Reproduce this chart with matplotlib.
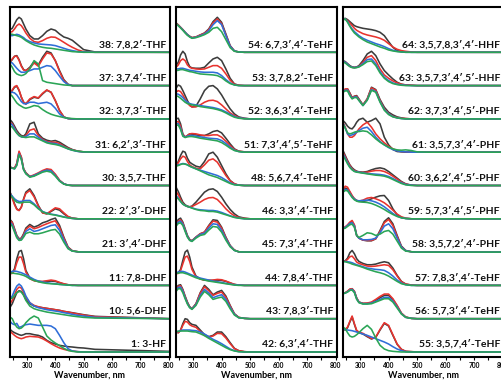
import matplotlib
matplotlib.use("Agg")
import matplotlib.pyplot as plt
from matplotlib.ticker import MultipleLocator
from matplotlib.transforms import blended_transform_factory

plt.rcParams['font.family'] = ['Lato', 'DejaVu Sans']

# wavelength grid (nm) the spectra were read at
wavelength = [240, 248, 256, 264, 272, 280, 288, 296, 310, 325, 340, 355,
              370, 385, 400, 415, 430, 445, 460, 480, 500, 540, 800]

# each spectrum set: [black, red, blue, green], heights in strip units

# ---- left column ----
s38 = [[0.68, 0.72, 0.85, 0.98, 1.05, 1.0, 0.85, 0.7, 0.5, 0.4, 0.4, 0.5, 0.63, 0.7, 0.66, 0.55, 0.46, 0.42, 0.36, 0.22, 0.08, 0.01, 0],
       [0.6, 0.62, 0.7, 0.8, 0.85, 0.8, 0.7, 0.58, 0.42, 0.32, 0.3, 0.35, 0.42, 0.46, 0.45, 0.38, 0.3, 0.22, 0.15, 0.07, 0.02, 0, 0],
       [0.5, 0.5, 0.52, 0.54, 0.52, 0.48, 0.44, 0.38, 0.32, 0.28, 0.25, 0.24, 0.23, 0.22, 0.2, 0.16, 0.12, 0.08, 0.05, 0.02, 0.01, 0, 0],
       [0.55, 0.54, 0.52, 0.5, 0.48, 0.45, 0.4, 0.35, 0.28, 0.22, 0.18, 0.15, 0.13, 0.12, 0.1, 0.08, 0.06, 0.04, 0.02, 0.01, 0, 0, 0]]
s37 = [[0.7, 0.78, 0.88, 0.9, 0.78, 0.6, 0.48, 0.45, 0.55, 0.72, 0.62, 0.85, 1.03, 0.98, 0.75, 0.45, 0.18, 0.04, 0, 0, 0, 0, 0],
       [0.72, 0.8, 0.88, 0.88, 0.76, 0.58, 0.47, 0.45, 0.52, 0.68, 0.58, 0.8, 0.98, 0.95, 0.75, 0.42, 0.15, 0.03, 0, 0, 0, 0, 0],
       [0.7, 0.68, 0.6, 0.52, 0.45, 0.4, 0.4, 0.41, 0.45, 0.5, 0.5, 0.55, 0.6, 0.58, 0.45, 0.28, 0.12, 0.03, 0, 0, 0, 0, 0],
       [0.65, 0.55, 0.42, 0.35, 0.32, 0.3, 0.32, 0.36, 0.5, 0.75, 0.65, 0.15, 0.1, 0.08, 0.06, 0.04, 0.02, 0.01, 0, 0, 0, 0, 0]]
s32 = [[0.75, 0.85, 0.95, 0.98, 0.85, 0.65, 0.5, 0.45, 0.58, 0.65, 0.62, 0.75, 0.86, 0.8, 0.55, 0.25, 0.06, 0.01, 0, 0, 0, 0, 0],
       [0.75, 0.87, 0.97, 1.0, 0.87, 0.66, 0.5, 0.45, 0.6, 0.67, 0.63, 0.77, 0.87, 0.8, 0.55, 0.25, 0.06, 0.01, 0, 0, 0, 0, 0],
       [0.8, 0.8, 0.78, 0.72, 0.62, 0.52, 0.46, 0.45, 0.5, 0.5, 0.46, 0.48, 0.5, 0.45, 0.32, 0.15, 0.05, 0.01, 0, 0, 0, 0, 0],
       [0.75, 0.68, 0.58, 0.48, 0.42, 0.38, 0.34, 0.32, 0.35, 0.4, 0.38, 0.28, 0.2, 0.14, 0.1, 0.07, 0.04, 0.02, 0.01, 0, 0, 0, 0]]
s31 = [[0.98, 0.9, 0.78, 0.65, 0.56, 0.5, 0.48, 0.55, 0.85, 0.9, 0.55, 0.42, 0.36, 0.33, 0.35, 0.3, 0.22, 0.14, 0.08, 0.03, 0.01, 0, 0],
       [0.9, 0.85, 0.72, 0.6, 0.52, 0.47, 0.45, 0.5, 0.66, 0.7, 0.5, 0.38, 0.32, 0.3, 0.3, 0.26, 0.18, 0.12, 0.07, 0.03, 0.01, 0, 0],
       [0.88, 0.82, 0.7, 0.58, 0.5, 0.46, 0.45, 0.47, 0.55, 0.55, 0.45, 0.36, 0.3, 0.27, 0.26, 0.22, 0.16, 0.1, 0.06, 0.02, 0.01, 0, 0],
       [0.8, 0.75, 0.66, 0.57, 0.5, 0.47, 0.45, 0.44, 0.46, 0.46, 0.4, 0.34, 0.28, 0.25, 0.23, 0.2, 0.15, 0.1, 0.06, 0.03, 0.01, 0, 0]]
s30 = [[0.55, 0.53, 0.52, 0.65, 1.0, 0.85, 0.5, 0.38, 0.27, 0.3, 0.36, 0.42, 0.47, 0.45, 0.32, 0.15, 0.05, 0.01, 0, 0, 0, 0, 0],
       [0.55, 0.53, 0.52, 0.67, 1.03, 0.85, 0.5, 0.38, 0.27, 0.32, 0.38, 0.45, 0.5, 0.48, 0.34, 0.16, 0.05, 0.01, 0, 0, 0, 0, 0],
       [0.55, 0.52, 0.5, 0.62, 0.95, 0.8, 0.48, 0.36, 0.26, 0.3, 0.36, 0.42, 0.46, 0.44, 0.3, 0.14, 0.05, 0.01, 0, 0, 0, 0, 0],
       [0.55, 0.52, 0.5, 0.6, 0.92, 0.78, 0.47, 0.35, 0.25, 0.28, 0.34, 0.4, 0.43, 0.4, 0.28, 0.13, 0.04, 0.01, 0, 0, 0, 0, 0]]
s22 = [[0.8, 0.65, 0.45, 0.3, 0.25, 0.35, 0.6, 0.8, 0.9, 0.7, 0.4, 0.18, 0.15, 0.22, 0.3, 0.26, 0.15, 0.06, 0.02, 0, 0, 0, 0],
       [0.78, 0.62, 0.42, 0.28, 0.25, 0.35, 0.58, 0.76, 0.85, 0.66, 0.38, 0.18, 0.15, 0.24, 0.33, 0.3, 0.18, 0.07, 0.02, 0, 0, 0, 0],
       [0.75, 0.68, 0.6, 0.55, 0.52, 0.52, 0.54, 0.55, 0.55, 0.45, 0.32, 0.22, 0.17, 0.14, 0.12, 0.09, 0.06, 0.03, 0.01, 0, 0, 0, 0],
       [0.72, 0.65, 0.56, 0.5, 0.48, 0.48, 0.5, 0.5, 0.5, 0.42, 0.3, 0.21, 0.16, 0.13, 0.11, 0.08, 0.05, 0.03, 0.01, 0, 0, 0, 0]]
s21 = [[0.98, 0.9, 0.7, 0.5, 0.4, 0.42, 0.55, 0.72, 0.83, 0.75, 0.8, 0.88, 0.92, 0.98, 1.02, 0.8, 0.45, 0.15, 0.04, 0.01, 0, 0, 0],
       [0.95, 0.88, 0.68, 0.48, 0.38, 0.4, 0.52, 0.68, 0.78, 0.7, 0.74, 0.8, 0.85, 0.9, 0.94, 0.74, 0.42, 0.14, 0.04, 0.01, 0, 0, 0],
       [0.9, 0.82, 0.64, 0.46, 0.37, 0.38, 0.48, 0.62, 0.7, 0.62, 0.65, 0.7, 0.75, 0.8, 0.82, 0.65, 0.37, 0.12, 0.03, 0.01, 0, 0, 0],
       [0.85, 0.78, 0.6, 0.43, 0.35, 0.36, 0.45, 0.56, 0.6, 0.55, 0.55, 0.58, 0.62, 0.66, 0.68, 0.54, 0.3, 0.1, 0.03, 0.01, 0, 0, 0]]
s11 = [[0.37, 0.38, 0.5, 0.8, 1.02, 1.05, 0.8, 0.45, 0.22, 0.15, 0.12, 0.11, 0.12, 0.13, 0.12, 0.08, 0.04, 0.02, 0.01, 0, 0, 0, 0],
       [0.35, 0.36, 0.45, 0.68, 0.85, 0.85, 0.65, 0.4, 0.2, 0.14, 0.12, 0.12, 0.14, 0.16, 0.14, 0.09, 0.05, 0.02, 0.01, 0, 0, 0, 0],
       [0.4, 0.42, 0.43, 0.42, 0.4, 0.38, 0.35, 0.32, 0.25, 0.18, 0.13, 0.1, 0.08, 0.06, 0.05, 0.03, 0.02, 0.01, 0, 0, 0, 0, 0],
       [0.38, 0.37, 0.36, 0.35, 0.34, 0.32, 0.3, 0.27, 0.2, 0.15, 0.11, 0.08, 0.06, 0.05, 0.04, 0.03, 0.02, 0.01, 0, 0, 0, 0, 0]]
s10 = [[0.34, 0.45, 0.62, 0.78, 0.84, 0.82, 0.72, 0.58, 0.45, 0.38, 0.35, 0.33, 0.31, 0.29, 0.27, 0.25, 0.22, 0.2, 0.18, 0.15, 0.12, 0.07, 0],
       [0.45, 0.55, 0.72, 0.88, 0.95, 0.92, 0.8, 0.65, 0.48, 0.4, 0.36, 0.33, 0.31, 0.29, 0.27, 0.25, 0.22, 0.2, 0.17, 0.14, 0.11, 0.06, 0],
       [0.6, 0.68, 0.85, 0.98, 1.04, 0.98, 0.85, 0.68, 0.48, 0.38, 0.33, 0.3, 0.27, 0.25, 0.23, 0.21, 0.18, 0.16, 0.13, 0.1, 0.08, 0.04, 0],
       [0.6, 0.62, 0.7, 0.78, 0.82, 0.8, 0.7, 0.55, 0.38, 0.3, 0.26, 0.23, 0.2, 0.18, 0.16, 0.14, 0.12, 0.1, 0.08, 0.06, 0.04, 0.02, 0]]
s1 = [[0.68, 0.62, 0.58, 0.55, 0.52, 0.5, 0.52, 0.55, 0.55, 0.52, 0.5, 0.45, 0.35, 0.28, 0.24, 0.2, 0.18, 0.16, 0.15, 0.13, 0.12, 0.08, 0.02],
      [0.62, 0.56, 0.5, 0.45, 0.42, 0.4, 0.42, 0.45, 0.47, 0.46, 0.45, 0.4, 0.33, 0.25, 0.18, 0.12, 0.08, 0.05, 0.03, 0.01, 0, 0, 0],
      [0.92, 0.85, 0.82, 0.86, 0.74, 0.76, 0.8, 0.82, 0.84, 0.82, 0.8, 0.8, 0.8, 0.78, 0.7, 0.5, 0.28, 0.1, 0.03, 0.01, 0, 0, 0],
      [1.05, 1.0, 0.85, 0.75, 0.7, 0.72, 0.78, 0.88, 1.0, 1.08, 1.02, 0.75, 0.48, 0.36, 0.27, 0.19, 0.11, 0.05, 0.02, 0, 0, 0, 0]]

# ---- middle column ----
s54 = [[0.88, 0.82, 0.75, 0.68, 0.6, 0.53, 0.48, 0.44, 0.46, 0.52, 0.58, 0.7, 0.92, 1.05, 0.9, 0.55, 0.2, 0.04, 0.01, 0, 0, 0, 0],
       [0.88, 0.82, 0.75, 0.68, 0.6, 0.53, 0.48, 0.44, 0.46, 0.52, 0.57, 0.68, 0.88, 1.0, 0.86, 0.52, 0.19, 0.04, 0.01, 0, 0, 0, 0],
       [0.86, 0.8, 0.74, 0.67, 0.6, 0.53, 0.47, 0.43, 0.45, 0.5, 0.55, 0.65, 0.83, 0.95, 0.83, 0.5, 0.18, 0.04, 0.01, 0, 0, 0, 0],
       [0.86, 0.8, 0.73, 0.66, 0.58, 0.51, 0.46, 0.42, 0.44, 0.48, 0.53, 0.6, 0.72, 0.75, 0.62, 0.38, 0.14, 0.03, 0.01, 0, 0, 0, 0]]
s53 = [[0.6, 0.7, 0.92, 1.03, 0.95, 0.72, 0.57, 0.53, 0.52, 0.52, 0.55, 0.68, 0.8, 0.85, 0.75, 0.5, 0.22, 0.05, 0.01, 0, 0, 0, 0],
       [0.55, 0.62, 0.75, 0.8, 0.75, 0.62, 0.55, 0.52, 0.5, 0.49, 0.5, 0.55, 0.6, 0.6, 0.52, 0.35, 0.16, 0.04, 0.01, 0, 0, 0, 0],
       [0.5, 0.5, 0.52, 0.52, 0.5, 0.48, 0.46, 0.45, 0.43, 0.41, 0.4, 0.4, 0.4, 0.38, 0.3, 0.18, 0.08, 0.02, 0, 0, 0, 0, 0],
       [0.45, 0.46, 0.48, 0.48, 0.46, 0.44, 0.42, 0.41, 0.38, 0.35, 0.34, 0.33, 0.32, 0.3, 0.24, 0.14, 0.06, 0.02, 0, 0, 0, 0, 0]]
s52 = [[0.92, 1.02, 0.98, 0.85, 0.7, 0.55, 0.42, 0.36, 0.38, 0.6, 0.85, 0.98, 1.0, 0.9, 0.72, 0.5, 0.3, 0.15, 0.06, 0.02, 0, 0, 0],
       [0.8, 0.85, 0.82, 0.72, 0.6, 0.48, 0.4, 0.36, 0.36, 0.42, 0.5, 0.55, 0.56, 0.52, 0.42, 0.3, 0.18, 0.1, 0.04, 0.01, 0, 0, 0],
       [0.76, 0.74, 0.7, 0.64, 0.56, 0.5, 0.46, 0.44, 0.42, 0.4, 0.38, 0.36, 0.34, 0.31, 0.27, 0.21, 0.14, 0.07, 0.03, 0.01, 0, 0, 0],
       [0.7, 0.67, 0.62, 0.56, 0.5, 0.46, 0.44, 0.42, 0.4, 0.37, 0.35, 0.33, 0.31, 0.28, 0.24, 0.18, 0.11, 0.05, 0.02, 0, 0, 0, 0]]
s51 = [[1.0, 1.02, 0.85, 0.55, 0.45, 0.5, 0.55, 0.54, 0.52, 0.5, 0.5, 0.55, 0.62, 0.65, 0.58, 0.42, 0.25, 0.1, 0.03, 0.01, 0, 0, 0],
       [0.9, 0.92, 0.78, 0.52, 0.46, 0.5, 0.55, 0.56, 0.55, 0.52, 0.5, 0.5, 0.52, 0.52, 0.45, 0.33, 0.2, 0.08, 0.03, 0.01, 0, 0, 0],
       [0.85, 0.86, 0.72, 0.5, 0.45, 0.48, 0.5, 0.5, 0.48, 0.46, 0.44, 0.42, 0.41, 0.4, 0.35, 0.26, 0.15, 0.06, 0.02, 0, 0, 0, 0],
       [0.8, 0.82, 0.68, 0.48, 0.44, 0.46, 0.47, 0.47, 0.45, 0.42, 0.4, 0.38, 0.36, 0.34, 0.29, 0.21, 0.12, 0.05, 0.02, 0, 0, 0, 0]]
s48 = [[0.6, 0.72, 0.9, 1.03, 1.0, 0.82, 0.7, 0.65, 0.58, 0.55, 0.72, 0.95, 1.0, 0.85, 0.6, 0.35, 0.15, 0.05, 0.01, 0, 0, 0, 0],
       [0.6, 0.68, 0.8, 0.88, 0.85, 0.72, 0.62, 0.57, 0.52, 0.5, 0.62, 0.76, 0.8, 0.7, 0.5, 0.3, 0.14, 0.05, 0.01, 0, 0, 0, 0],
       [0.6, 0.62, 0.64, 0.66, 0.65, 0.62, 0.58, 0.55, 0.5, 0.46, 0.42, 0.38, 0.34, 0.3, 0.24, 0.16, 0.08, 0.03, 0.01, 0, 0, 0, 0],
       [0.58, 0.6, 0.63, 0.65, 0.64, 0.62, 0.58, 0.55, 0.5, 0.44, 0.38, 0.32, 0.28, 0.24, 0.18, 0.12, 0.06, 0.02, 0.01, 0, 0, 0, 0]]
s46 = [[0.95, 0.82, 0.65, 0.5, 0.42, 0.38, 0.36, 0.38, 0.5, 0.65, 0.8, 0.88, 0.9, 0.82, 0.65, 0.45, 0.28, 0.15, 0.06, 0.02, 0, 0, 0],
       [0.82, 0.72, 0.58, 0.46, 0.4, 0.37, 0.36, 0.37, 0.43, 0.5, 0.58, 0.63, 0.64, 0.58, 0.45, 0.3, 0.18, 0.09, 0.04, 0.01, 0, 0, 0],
       [0.7, 0.62, 0.52, 0.44, 0.4, 0.37, 0.35, 0.33, 0.29, 0.27, 0.26, 0.25, 0.25, 0.23, 0.19, 0.14, 0.09, 0.05, 0.02, 0, 0, 0, 0],
       [0.65, 0.6, 0.52, 0.44, 0.4, 0.37, 0.35, 0.32, 0.28, 0.25, 0.24, 0.22, 0.22, 0.2, 0.16, 0.12, 0.08, 0.04, 0.02, 0, 0, 0, 0]]
s45 = [[0.85, 0.98, 1.02, 0.9, 0.7, 0.5, 0.38, 0.34, 0.45, 0.55, 0.6, 0.8, 0.97, 0.95, 0.75, 0.45, 0.2, 0.06, 0.01, 0, 0, 0, 0],
       [0.82, 0.93, 0.97, 0.87, 0.67, 0.48, 0.37, 0.34, 0.45, 0.55, 0.6, 0.78, 0.93, 0.9, 0.72, 0.43, 0.19, 0.06, 0.01, 0, 0, 0, 0],
       [0.8, 0.9, 0.93, 0.84, 0.65, 0.47, 0.36, 0.33, 0.44, 0.53, 0.57, 0.72, 0.85, 0.83, 0.66, 0.4, 0.18, 0.05, 0.01, 0, 0, 0, 0],
       [0.78, 0.86, 0.88, 0.8, 0.62, 0.45, 0.35, 0.32, 0.42, 0.5, 0.53, 0.66, 0.77, 0.75, 0.6, 0.36, 0.16, 0.05, 0.01, 0, 0, 0, 0]]
s44 = [[0.37, 0.38, 0.48, 0.75, 1.0, 1.06, 0.85, 0.55, 0.28, 0.2, 0.16, 0.15, 0.15, 0.16, 0.15, 0.12, 0.07, 0.03, 0.01, 0, 0, 0, 0],
       [0.35, 0.36, 0.44, 0.65, 0.85, 0.88, 0.72, 0.48, 0.26, 0.19, 0.16, 0.15, 0.16, 0.18, 0.17, 0.13, 0.08, 0.03, 0.01, 0, 0, 0, 0],
       [0.38, 0.4, 0.42, 0.42, 0.4, 0.37, 0.34, 0.31, 0.26, 0.22, 0.19, 0.16, 0.13, 0.11, 0.09, 0.06, 0.04, 0.02, 0.01, 0, 0, 0, 0],
       [0.36, 0.37, 0.38, 0.38, 0.36, 0.34, 0.31, 0.28, 0.23, 0.19, 0.16, 0.13, 0.11, 0.09, 0.07, 0.05, 0.03, 0.01, 0, 0, 0, 0, 0]]
s43 = [[0.9, 1.0, 1.02, 0.88, 0.68, 0.5, 0.36, 0.3, 0.45, 0.78, 1.0, 0.88, 0.72, 0.8, 0.85, 0.68, 0.4, 0.15, 0.04, 0.01, 0, 0, 0],
       [0.88, 0.97, 0.99, 0.86, 0.66, 0.48, 0.35, 0.3, 0.44, 0.76, 0.96, 0.84, 0.7, 0.76, 0.8, 0.64, 0.38, 0.14, 0.04, 0.01, 0, 0, 0],
       [0.85, 0.94, 0.95, 0.83, 0.63, 0.46, 0.34, 0.29, 0.42, 0.7, 0.88, 0.77, 0.63, 0.68, 0.72, 0.58, 0.34, 0.13, 0.03, 0.01, 0, 0, 0],
       [0.82, 0.9, 0.9, 0.78, 0.6, 0.44, 0.33, 0.28, 0.4, 0.65, 0.82, 0.72, 0.58, 0.62, 0.65, 0.52, 0.3, 0.11, 0.03, 0.01, 0, 0, 0]]
s42 = [[0.6, 0.58, 0.66, 0.85, 1.0, 0.98, 0.88, 0.83, 0.8, 0.66, 0.52, 0.46, 0.5, 0.6, 0.6, 0.46, 0.28, 0.11, 0.04, 0.01, 0, 0, 0],
       [0.6, 0.58, 0.65, 0.8, 0.92, 0.9, 0.82, 0.78, 0.74, 0.62, 0.5, 0.45, 0.48, 0.56, 0.55, 0.42, 0.25, 0.1, 0.04, 0.01, 0, 0, 0],
       [0.6, 0.62, 0.64, 0.66, 0.66, 0.66, 0.66, 0.65, 0.64, 0.6, 0.54, 0.46, 0.38, 0.32, 0.25, 0.17, 0.09, 0.04, 0.01, 0, 0, 0, 0],
       [0.62, 0.62, 0.63, 0.63, 0.63, 0.63, 0.62, 0.61, 0.6, 0.55, 0.49, 0.41, 0.34, 0.27, 0.2, 0.13, 0.07, 0.03, 0.01, 0, 0, 0, 0]]

# ---- right column ----
s64 = [[1.0, 1.02, 0.98, 0.92, 0.86, 0.8, 0.77, 0.75, 0.72, 0.7, 0.68, 0.65, 0.6, 0.5, 0.32, 0.15, 0.05, 0.02, 0.01, 0, 0, 0, 0],
       [0.98, 1.0, 0.95, 0.88, 0.8, 0.72, 0.66, 0.62, 0.56, 0.52, 0.49, 0.46, 0.42, 0.36, 0.26, 0.16, 0.09, 0.05, 0.03, 0.01, 0, 0, 0],
       [0.98, 1.0, 0.92, 0.8, 0.7, 0.62, 0.56, 0.5, 0.42, 0.36, 0.31, 0.26, 0.22, 0.17, 0.11, 0.06, 0.03, 0.01, 0, 0, 0, 0, 0],
       [0.97, 1.0, 0.9, 0.78, 0.67, 0.58, 0.52, 0.46, 0.38, 0.31, 0.26, 0.21, 0.16, 0.12, 0.07, 0.04, 0.02, 0.01, 0, 0, 0, 0, 0]]
s63 = [[0.75, 0.72, 0.66, 0.6, 0.56, 0.55, 0.56, 0.6, 0.75, 0.95, 1.03, 0.9, 0.65, 0.45, 0.32, 0.2, 0.1, 0.04, 0.02, 0.01, 0, 0, 0],
       [0.72, 0.7, 0.64, 0.58, 0.55, 0.54, 0.55, 0.58, 0.7, 0.85, 0.9, 0.75, 0.5, 0.32, 0.22, 0.14, 0.08, 0.04, 0.02, 0.01, 0, 0, 0],
       [0.72, 0.7, 0.64, 0.58, 0.55, 0.54, 0.55, 0.57, 0.66, 0.78, 0.8, 0.65, 0.42, 0.25, 0.15, 0.08, 0.04, 0.02, 0.01, 0, 0, 0, 0],
       [0.7, 0.68, 0.62, 0.57, 0.54, 0.53, 0.54, 0.56, 0.63, 0.72, 0.74, 0.6, 0.38, 0.22, 0.12, 0.06, 0.03, 0.01, 0, 0, 0, 0, 0]]
s62 = [[0.84, 0.88, 0.9, 0.78, 0.64, 0.68, 0.7, 0.6, 0.42, 0.6, 0.95, 0.88, 0.58, 0.35, 0.2, 0.12, 0.06, 0.03, 0.01, 0, 0, 0, 0],
       [0.85, 0.9, 0.9, 0.76, 0.64, 0.68, 0.68, 0.58, 0.42, 0.6, 0.93, 0.86, 0.55, 0.3, 0.16, 0.08, 0.04, 0.02, 0.01, 0, 0, 0, 0],
       [0.82, 0.86, 0.86, 0.72, 0.62, 0.66, 0.66, 0.56, 0.4, 0.57, 0.88, 0.82, 0.52, 0.28, 0.15, 0.07, 0.03, 0.01, 0, 0, 0, 0, 0],
       [0.8, 0.84, 0.84, 0.7, 0.6, 0.64, 0.64, 0.55, 0.4, 0.56, 0.86, 0.8, 0.5, 0.26, 0.13, 0.06, 0.03, 0.01, 0, 0, 0, 0, 0]]
s61 = [[0.95, 0.88, 0.78, 0.72, 0.7, 0.78, 0.9, 0.98, 1.02, 0.9, 0.95, 1.02, 0.85, 0.45, 0.22, 0.08, 0.02, 0.01, 0, 0, 0, 0, 0],
       [0.9, 0.75, 0.55, 0.45, 0.45, 0.5, 0.6, 0.7, 0.82, 0.9, 0.75, 0.55, 0.4, 0.28, 0.18, 0.1, 0.05, 0.02, 0.01, 0, 0, 0, 0],
       [0.88, 0.72, 0.55, 0.5, 0.52, 0.55, 0.6, 0.65, 0.72, 0.75, 0.62, 0.45, 0.32, 0.22, 0.14, 0.08, 0.04, 0.02, 0.01, 0, 0, 0, 0],
       [0.85, 0.72, 0.58, 0.55, 0.57, 0.6, 0.62, 0.62, 0.64, 0.62, 0.52, 0.4, 0.3, 0.22, 0.15, 0.1, 0.07, 0.06, 0.07, 0.05, 0.01, 0, 0]]
s60 = [[1.05, 0.9, 0.75, 0.62, 0.53, 0.47, 0.43, 0.41, 0.4, 0.42, 0.47, 0.51, 0.53, 0.5, 0.42, 0.32, 0.22, 0.12, 0.05, 0.01, 0, 0, 0],
       [1.0, 0.86, 0.72, 0.6, 0.5, 0.45, 0.42, 0.4, 0.39, 0.4, 0.43, 0.45, 0.45, 0.42, 0.36, 0.28, 0.19, 0.1, 0.04, 0.01, 0, 0, 0],
       [0.95, 0.82, 0.68, 0.56, 0.48, 0.43, 0.41, 0.4, 0.38, 0.36, 0.35, 0.34, 0.33, 0.31, 0.27, 0.21, 0.14, 0.08, 0.03, 0.01, 0, 0, 0],
       [0.9, 0.78, 0.65, 0.54, 0.47, 0.42, 0.4, 0.39, 0.37, 0.35, 0.33, 0.31, 0.3, 0.28, 0.24, 0.18, 0.12, 0.06, 0.02, 0, 0, 0, 0]]
s59 = [[0.85, 0.92, 0.9, 0.8, 0.68, 0.6, 0.55, 0.53, 0.52, 0.55, 0.6, 0.65, 0.69, 0.7, 0.55, 0.3, 0.12, 0.04, 0.01, 0, 0, 0, 0],
       [0.88, 0.98, 0.95, 0.82, 0.7, 0.6, 0.55, 0.53, 0.56, 0.62, 0.64, 0.6, 0.55, 0.48, 0.38, 0.26, 0.14, 0.06, 0.02, 0, 0, 0, 0],
       [0.82, 0.88, 0.86, 0.76, 0.66, 0.59, 0.55, 0.54, 0.55, 0.56, 0.54, 0.5, 0.44, 0.36, 0.26, 0.16, 0.08, 0.03, 0.01, 0, 0, 0, 0],
       [0.8, 0.85, 0.84, 0.74, 0.64, 0.57, 0.53, 0.51, 0.5, 0.49, 0.46, 0.41, 0.35, 0.28, 0.2, 0.13, 0.07, 0.03, 0.01, 0, 0, 0, 0]]
s58 = [[0.72, 0.74, 0.8, 0.88, 0.92, 0.8, 0.5, 0.42, 0.36, 0.34, 0.34, 0.4, 0.65, 0.92, 1.03, 0.85, 0.5, 0.18, 0.05, 0.01, 0, 0, 0],
       [0.73, 0.76, 0.82, 0.9, 0.95, 0.82, 0.5, 0.42, 0.36, 0.35, 0.35, 0.4, 0.62, 0.88, 0.98, 0.8, 0.47, 0.16, 0.04, 0.01, 0, 0, 0],
       [0.72, 0.74, 0.8, 0.86, 0.88, 0.78, 0.5, 0.42, 0.37, 0.37, 0.38, 0.42, 0.58, 0.78, 0.85, 0.7, 0.42, 0.15, 0.04, 0.01, 0, 0, 0],
       [0.7, 0.72, 0.77, 0.82, 0.84, 0.74, 0.5, 0.44, 0.5, 0.58, 0.56, 0.5, 0.54, 0.62, 0.65, 0.54, 0.33, 0.12, 0.03, 0.01, 0, 0, 0]]
s57 = [[0.72, 0.74, 0.82, 0.98, 1.05, 0.95, 0.8, 0.72, 0.66, 0.62, 0.62, 0.64, 0.68, 0.71, 0.68, 0.52, 0.3, 0.12, 0.04, 0.01, 0, 0, 0],
       [0.72, 0.73, 0.78, 0.86, 0.88, 0.8, 0.7, 0.66, 0.62, 0.58, 0.57, 0.58, 0.6, 0.62, 0.6, 0.47, 0.28, 0.11, 0.04, 0.01, 0, 0, 0],
       [0.72, 0.72, 0.71, 0.7, 0.68, 0.65, 0.62, 0.6, 0.56, 0.52, 0.5, 0.48, 0.47, 0.45, 0.38, 0.28, 0.16, 0.07, 0.02, 0, 0, 0, 0],
       [0.72, 0.71, 0.69, 0.67, 0.64, 0.62, 0.6, 0.58, 0.54, 0.49, 0.45, 0.41, 0.38, 0.34, 0.28, 0.2, 0.12, 0.05, 0.02, 0, 0, 0, 0]]
s56 = [[0.76, 0.78, 0.82, 0.88, 0.9, 0.82, 0.62, 0.5, 0.46, 0.46, 0.48, 0.55, 0.63, 0.7, 0.7, 0.58, 0.38, 0.16, 0.05, 0.01, 0, 0, 0],
       [0.76, 0.78, 0.83, 0.89, 0.9, 0.82, 0.62, 0.5, 0.46, 0.47, 0.5, 0.58, 0.67, 0.74, 0.74, 0.6, 0.4, 0.17, 0.05, 0.01, 0, 0, 0],
       [0.75, 0.77, 0.81, 0.86, 0.88, 0.8, 0.6, 0.49, 0.45, 0.45, 0.47, 0.52, 0.58, 0.64, 0.64, 0.53, 0.35, 0.15, 0.04, 0.01, 0, 0, 0],
       [0.75, 0.77, 0.8, 0.85, 0.86, 0.78, 0.58, 0.48, 0.44, 0.44, 0.45, 0.5, 0.55, 0.6, 0.6, 0.5, 0.32, 0.14, 0.04, 0.01, 0, 0, 0]]
s55 = [[0.68, 0.66, 0.73, 0.9, 1.05, 0.83, 0.63, 0.58, 0.54, 0.46, 0.39, 0.44, 0.66, 0.86, 0.78, 0.5, 0.23, 0.08, 0.02, 0.01, 0, 0, 0],
       [0.7, 0.68, 0.75, 0.92, 1.08, 0.85, 0.65, 0.6, 0.56, 0.48, 0.4, 0.45, 0.68, 0.88, 0.8, 0.52, 0.24, 0.08, 0.02, 0.01, 0, 0, 0],
       [0.7, 0.68, 0.66, 0.65, 0.64, 0.62, 0.6, 0.58, 0.54, 0.5, 0.45, 0.4, 0.35, 0.3, 0.24, 0.16, 0.09, 0.04, 0.01, 0, 0, 0, 0],
       [0.75, 0.7, 0.58, 0.48, 0.45, 0.47, 0.52, 0.58, 0.7, 0.8, 0.68, 0.42, 0.2, 0.09, 0.04, 0.02, 0.01, 0, 0, 0, 0, 0, 0]]

labels_left = ['38: 7,8,2′-THF', '37: 3,7,4′-THF', '32: 3,7,3′-THF', '31: 6,2′,3′-THF',
               '30: 3,5,7-THF', '22: 2′,3′-DHF', '21: 3′,4′-DHF', '11: 7,8-DHF',
               '10: 5,6-DHF', '1: 3-HF']
labels_mid = ['54: 6,7,3′,4′-TeHF', '53: 3,7,8,2′-TeHF', '52: 3,6,3′,4′-TeHF',
              '51: 7,3′,4′,5′-TeHF', '48: 5,6,7,4′-TeHF', '46: 3,3′,4′-THF',
              '45: 7,3′,4′-THF', '44: 7,8,4′-THF', '43: 7,8,3′-THF', '42: 6,3′,4′-THF']
labels_right = ['64: 3,5,7,8,3′,4′-HHF', '63: 3,5,7,3′,4′,5′-HHF', '62: 3,7,3′,4′,5′-PHF',
                '61: 3,5,7,3′,4′-PHF', '60: 3,6,2′,4′,5′-PHF', '59: 5,7,3′,4′,5′-PHF',
                '58: 3,5,7,2′,4′-PHF', '57: 7,8,3′,4′-TeHF', '56: 5,7,3′,4′-TeHF',
                '55: 3,5,7,4′-TeHF']

columns = [
    (labels_left, [s38, s37, s32, s31, s30, s22, s21, s11, s10, s1]),
    (labels_mid, [s54, s53, s52, s51, s48, s46, s45, s44, s43, s42]),
    (labels_right, [s64, s63, s62, s61, s60, s59, s58, s57, s56, s55]),
]
colors = ['#3c3c3c', '#e8332e', '#2f6ed8', '#2aa556']

W, H = 501, 382
fig = plt.figure(figsize=(W / 100, H / 100), dpi=100)

# axes edges in pixels
col_px = [(10, 170), (176, 337), (343, 504)]

for (x0, x1), (labels, spectra) in zip(col_px, columns):
    ax = fig.add_axes([x0 / W, 25 / H, (x1 - x0) / W, 350 / H])
    n = len(spectra)
    for i, (lab, curves) in enumerate(zip(labels, spectra)):
        off = n - 1 - i
        for c, ys in zip(colors, curves):
            ax.plot(wavelength, [v + off for v in ys], color=c, lw=1.15)
        tr = blended_transform_factory(ax.transAxes, ax.transData)
        ax.text(0.975, off + 0.15, lab, transform=tr, ha='right', va='baseline',
                fontsize=7.5, fontweight='bold', color='#111111')

    ax.set_xlim(240, 805)
    ax.set_ylim(-0.15, 10.36)
    ax.set_xticks(range(300, 801, 100))
    ax.xaxis.set_minor_locator(MultipleLocator(50))
    ax.set_yticks([])
    ax.tick_params(axis='x', which='both', direction='out', length=2, width=0.8,
                   labelsize=4.8, pad=1.5)
    for t in ax.get_xticklabels():
        t.set_fontweight('bold')
    for s in ax.spines.values():
        s.set_linewidth(1.5)
    ax.set_xlabel('Wavenumber, nm', fontsize=6.5, fontweight='bold', labelpad=1.5)

fig.savefig('out.png', dpi=100)
